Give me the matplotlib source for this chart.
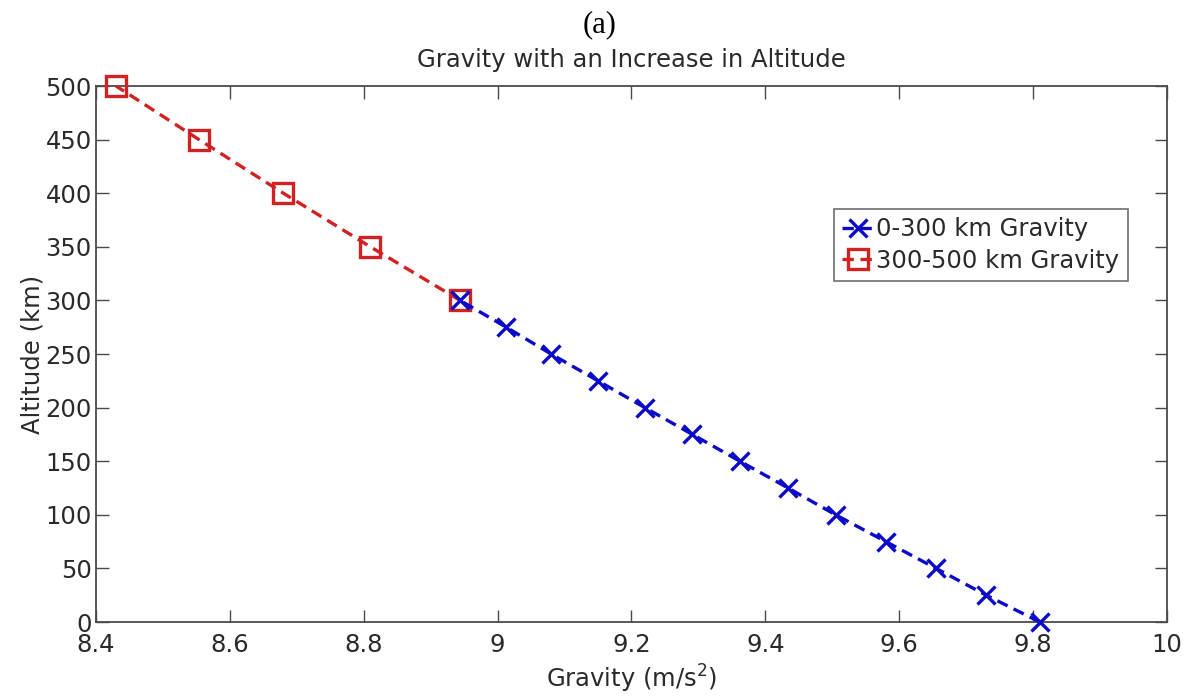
import matplotlib
matplotlib.use("Agg")
import matplotlib.pyplot as plt

# Data
alt_low = [0, 25, 50, 75, 100, 125, 150, 175, 200, 225, 250, 275, 300]
g_low = [9.81, 9.73, 9.655, 9.58, 9.505, 9.434, 9.362, 9.291, 9.220, 9.150, 9.080, 9.013, 8.944]
alt_high = [300, 350, 400, 450, 500]
g_high = [8.944, 8.81, 8.68, 8.554, 8.43]

xticks = [8.4, 8.6, 8.8, 9.0, 9.2, 9.4, 9.6, 9.8, 10.0]
xticklabels = ["8.4", "8.6", "8.8", "9", "9.2", "9.4", "9.6", "9.8", "10"]
yticks = list(range(0, 501, 50))

plt.rcParams['font.family'] = ['DejaVu Sans']
axis_col = '#4a4a4a'
text_col = '#2a2a2a'

fig = plt.figure(figsize=(11.89, 7.0), dpi=100)
ax = fig.add_axes([0.0807, 0.1114, 0.9008, 0.7657])

blue = '#0a0ac8'
red = '#d02222'
ax.plot(g_low, alt_low, linestyle='--', dashes=(3.4, 2.0), color=blue, lw=2.4,
        marker='x', markersize=13, markeredgewidth=2.4, label='0-300 km Gravity',
        zorder=4, clip_on=False)
ax.plot(g_high, alt_high, linestyle='--', dashes=(3.4, 2.0), color=red, lw=2.4,
        marker='s', markersize=14, markeredgewidth=2.4, markerfacecolor='none',
        label='300-500 km Gravity', zorder=3, clip_on=False)

ax.set_xlim(8.4, 10)
ax.set_ylim(0, 500)
ax.set_xticks(xticks)
ax.set_xticklabels(xticklabels)
ax.set_yticks(yticks)
ax.tick_params(direction='in', length=9, width=1.0, colors=axis_col, labelcolor=text_col,
               labelsize=17.5, top=True, right=True, pad=3)
ax.tick_params(axis='x', pad=8)
for s in ax.spines.values():
    s.set_color(axis_col)
    s.set_linewidth(1.3)

ax.set_xlabel('Gravity (m/s$^2$)', fontsize=17.5, color=text_col, labelpad=4)
ax.set_ylabel('Altitude (km)', fontsize=17.5, color=text_col, labelpad=1)
ax.set_title('Gravity with an Increase in Altitude', fontsize=17.5, color=text_col, pad=14)

leg = ax.legend(loc='upper left', bbox_to_anchor=(0.6888, 0.771), fontsize=17.5,
                frameon=True, fancybox=False, edgecolor=axis_col, handlelength=1.3,
                handletextpad=0.1, borderpad=0.35, labelspacing=0.3, borderaxespad=0)
leg.get_frame().set_linewidth(1.2)
for t in leg.get_texts():
    t.set_color(text_col)

fig.text(0.5045, 0.985, '(a)', family='Liberation Serif', fontsize=22, ha='center', va='top',
         color='black')

fig.savefig('out.png', dpi=100)
